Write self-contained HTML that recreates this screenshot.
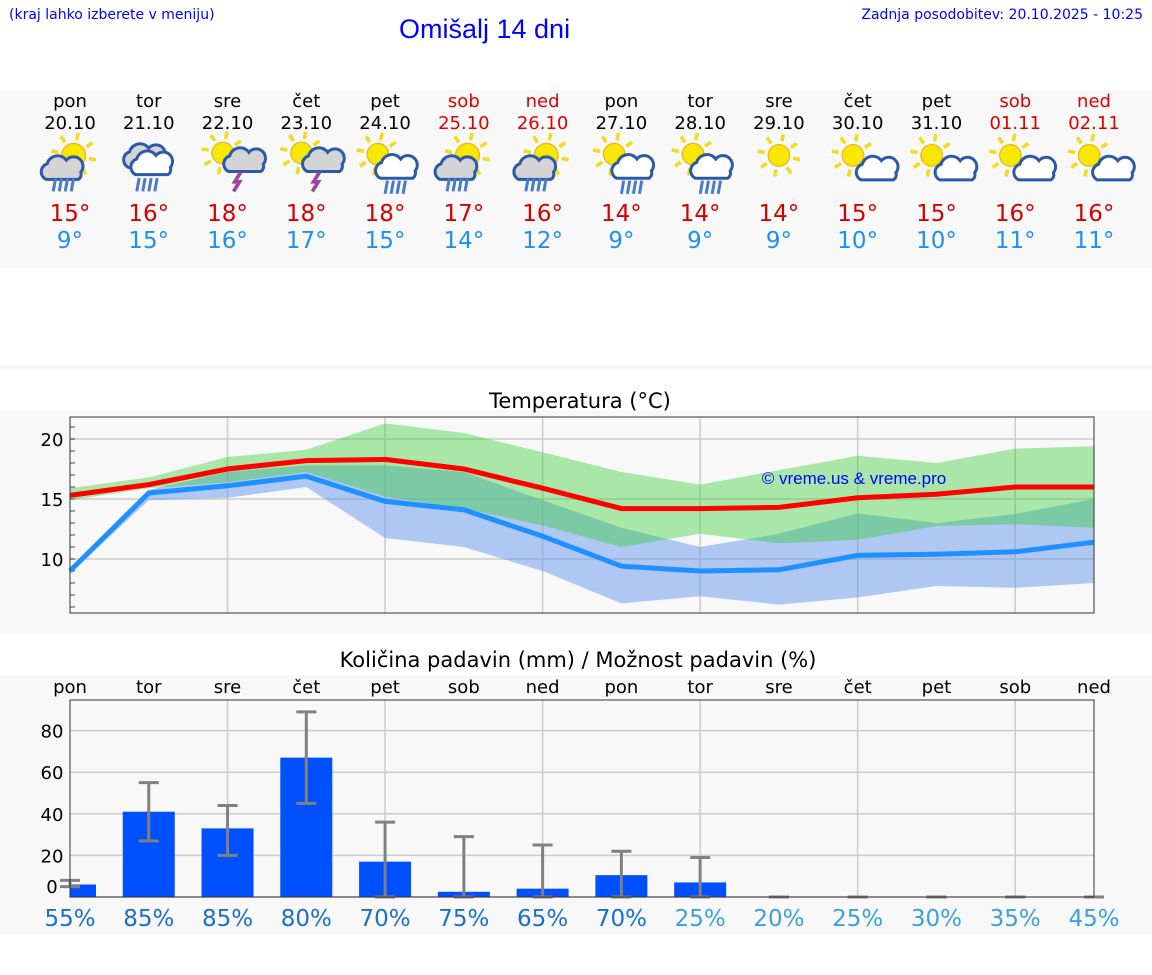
<!DOCTYPE html>
<html><head><meta charset="utf-8">
<style>
body{margin:0;width:1152px;height:975px;background:#fff;font-family:"DejaVu Sans","Liberation Sans",sans-serif;position:relative;overflow:hidden}
.abs{position:absolute}
</style></head>
<body>
<div class="abs" style="left:9px;top:7px;font-size:14px;color:#00f;font-family:'DejaVu Sans',sans-serif">(kraj lahko izberete v meniju)</div>
<div class="abs" style="left:399px;top:14px;font-size:27px;color:#00f;font-family:'Liberation Sans',sans-serif">Omišalj 14 dni</div>
<div class="abs" style="right:9px;top:7px;font-size:14px;color:#00f;font-family:'DejaVu Sans',sans-serif">Zadnja posodobitev: 20.10.2025 - 10:25</div>
<div class="abs" style="left:0;top:90px;width:1152px;height:178px;background:#f8f8f8"></div>
<div class="abs" style="left:0;top:365px;width:1152px;height:5px;background:#f8f8f8"></div>
<div class="abs" style="left:0;top:410px;width:1152px;height:224px;background:#f8f8f8"></div>
<div class="abs" style="left:0;top:675px;width:1152px;height:260px;background:#f8f8f8"></div>
<svg id="svg" class="abs" style="left:0;top:0" width="1152" height="975"></svg>
<script>
const days=["pon","tor","sre","čet","pet","sob","ned","pon","tor","sre","čet","pet","sob","ned"];
const dates=["20.10","21.10","22.10","23.10","24.10","25.10","26.10","27.10","28.10","29.10","30.10","31.10","01.11","02.11"];
const icons=["sunrain","cloudrain","sunstorm","sunstorm","suncloudrain","sunrain","sunrain","suncloudrain","suncloudrain","sun","suncloud","suncloud","suncloud","suncloud"];
const tmax=[15,16,18,18,18,17,16,14,14,14,15,15,16,16];
const tmin=[9,15,16,17,15,14,12,9,9,9,10,10,11,11];
const maxLine=[15.3,16.2,17.5,18.2,18.3,17.5,15.9,14.2,14.2,14.3,15.1,15.4,16.0,16.0];
const minLine=[9.0,15.5,16.1,16.9,14.8,14.1,11.9,9.4,9.0,9.1,10.3,10.4,10.6,11.4];
const maxHi=[15.9,16.8,18.5,19.1,21.3,20.5,18.9,17.25,16.2,17.4,18.6,18.0,19.2,19.4];
const maxLo=[14.9,15.9,16.4,17.25,15.2,14.2,12.8,11.0,12.1,11.3,11.6,12.75,12.9,12.6];
const minHi=[9.3,15.75,17.25,17.8,17.8,17.25,14.9,12.6,11.0,12.1,13.8,13.0,13.75,15.0];
const minLo=[8.8,14.9,15.1,16.0,11.75,11.0,9.0,6.3,6.9,6.2,6.8,7.75,7.6,8.0];
const tempTicks=[10,15,20];
const precip=[6,41,33,67,17,2.5,4,10.5,7,0,0,0,0,0];
const precipLo=[5,27,20,45,0,0,0,0,0,0,0,0,0,0];
const precipHi=[8,55,44,89,36,29,25,22,19,0,0,0,0,0];
const chance=[55,85,85,80,70,75,65,70,25,20,25,30,35,45];
const precipTicks=[0,20,40,60,80];

const S=document.getElementById('svg');const NS="http://www.w3.org/2000/svg";
function el(t,a,p){const e=document.createElementNS(NS,t);for(const k in a)e.setAttribute(k,a[k]);(p||S).appendChild(e);return e;}
function txt(x,y,s,a,name){const e=el('text',Object.assign({x:x,y:y,'text-anchor':'middle','font-family':'DejaVu Sans, Liberation Sans, sans-serif'},a));e.textContent=s;

return e;}
const X=i=>70+i*(1094-70)/13;
days.forEach((d,i)=>{const we=i==5||i==6||i==12||i==13;const c=we?'#d00':'#000';
txt(X(i),107,d,{'font-size':18,fill:c},'day-name');
txt(X(i),129,dates[i],{'font-size':18,fill:c},'day-date');
txt(X(i),221,tmax[i]+'°',{'font-size':23,fill:'#d40000'},'max-temp');
txt(X(i),248,tmin[i]+'°',{'font-size':23,fill:'#2090f0'},'min-temp');
drawIcon(X(i),165,icons[i]);
});
function drawIcon(cx,cy,t){const g=el('g',{transform:`translate(${cx},${cy}) scale(1.2)`});


const sun=(x,y,r)=>{for(let k=0;k<8;k++){const a=k*Math.PI/4+0.2;el('line',{x1:x+Math.cos(a)*(r+3),y1:y+Math.sin(a)*(r+3),x2:x+Math.cos(a)*(r+9),y2:y+Math.sin(a)*(r+9),stroke:'#f0dc20','stroke-width':3},g);}
el('circle',{cx:x,cy:y,r:r,fill:'#f7e800',stroke:'#f0b020','stroke-width':1},g);};
const cloud=(x,y,s,f)=>{el('path',{d:`M${x-14*s},${y+8*s} a7 7 0 0 1 1,-13 a9 9 0 0 1 16,-3 a7 7 0 0 1 12,10 a5 5 0 0 1 -2,6 z`,fill:f,stroke:'#2a5aa8','stroke-width':2.5},g);};
const rain=(x,y)=>{for(let k=0;k<4;k++)el('line',{x1:x+k*5+2,y1:y,x2:x+k*5,y2:y+11,stroke:'#4a7ac8','stroke-width':2.5},g);};
const bolt=(x,y)=>el('path',{d:`M${x+3},${y} L${x-2},${y+8} L${x+2},${y+8} L${x-3},${y+16}`,stroke:'#a040a0','stroke-width':3,fill:'none'},g);
if(t=='sun'){sun(0,-8,9);}
else if(t=='sunrain'){sun(3,-8,10);cloud(-6,4,1,'#d4d4d4');rain(-14,11);}
else if(t=='cloudrain'){cloud(-3,-6,1,'#d4d4d4');cloud(3,0,1,'#fff');rain(-10,11);}
else if(t=='sunstorm'){sun(-4,-10,9);cloud(12,-1,0.8,'#d4d4d4');bolt(8,6);}
else if(t=='suncloudrain'){sun(-6,-9,9);cloud(10,3,1,'#fff');rain(0,13);}
else if(t=='suncloud'){sun(-4,-8,9);cloud(14,6,0.8,'#fff');}
}
const TY=t=>439+(20-t)*12;
txt(580,408,'Temperatura (°C)',{'font-size':21,fill:'#000'},'temp-chart-title');
el('rect',{x:70,y:417,width:1024,height:196,fill:'#f8f8f8'});
for(let i=2;i<13;i+=2)el('line',{x1:X(i),x2:X(i),y1:417,y2:613,stroke:'#ccc','stroke-width':1.5});
tempTicks.forEach(t=>{el('line',{x1:70,x2:1094,y1:TY(t),y2:TY(t),stroke:'#ccc','stroke-width':1.5});txt(52,TY(t)+7,String(t),{'font-size':18,fill:'#000'},'temp-tick');});
for(let t=6;t<=21;t++)el('line',{x1:70,x2:75,y1:TY(t),y2:TY(t),stroke:'#444'});
function band(hi,lo,fill,op,name){let d='M'+hi.map((v,i)=>X(i)+','+TY(v)).join('L')+'L'+lo.map((v,i)=>X(i)+','+TY(v)).reverse().join('L')+'Z';const p=el('path',{d:d,fill:fill,'fill-opacity':op});

}
band(minHi,minLo,'#6495ed',0.5,'min-temp-range');
band(maxHi,maxLo,'#32cd32',0.4,'max-temp-range');
function line(v,c,name){const p=el('polyline',{points:v.map((t,i)=>X(i)+','+TY(t)).join(' '),fill:'none',stroke:c,'stroke-width':5});

}
line(maxLine,'#ff0000','max-temp-line');line(minLine,'#1e90ff','min-temp-line');
el('rect',{x:70,y:417,width:1024,height:196,fill:'none',stroke:'#333'});
txt(854,484,'© vreme.us & vreme.pro',{'font-size':17,fill:'#0000ff','font-family':'Liberation Sans, sans-serif'},'watermark');
const PY=v=>897-v*2.08;const bw=52;
txt(578,667,'Količina padavin (mm) / Možnost padavin (%)',{'font-size':21,fill:'#000'},'precip-chart-title');
days.forEach((d,i)=>txt(X(i),693,d,{'font-size':18,fill:'#000'},'precip-day-name'));
el('rect',{x:70,y:700,width:1024,height:197,fill:'#f8f8f8'});
for(let i=2;i<13;i+=2)el('line',{x1:X(i),x2:X(i),y1:700,y2:897,stroke:'#ccc','stroke-width':1.5});
precipTicks.forEach(t=>{el('line',{x1:70,x2:1094,y1:PY(t),y2:PY(t),stroke:'#ccc','stroke-width':1.5});txt(52,(t==0?PY(t)-4:PY(t)+7),String(t),{'font-size':18,fill:'#000'},'precip-tick');});
precip.forEach((v,i)=>{const x0=Math.max(70,X(i)-bw/2),x1=Math.min(1094,X(i)+bw/2);
const r=el('rect',{x:x0,y:PY(v),width:x1-x0,height:v*2.08,fill:'#0050ff'});


const g=el('g',{stroke:'#808080','stroke-width':3});


el('line',{x1:X(i),x2:X(i),y1:PY(precipLo[i]),y2:PY(precipHi[i])},g);
el('line',{x1:X(i)-10,x2:X(i)+10,y1:PY(precipHi[i]),y2:PY(precipHi[i])},g);
el('line',{x1:X(i)-10,x2:X(i)+10,y1:PY(precipLo[i]),y2:PY(precipLo[i])},g);
txt(X(i),926,chance[i]+'%',{'font-size':23,fill:i<8?'#1a70c8':'#3aa0e0'},'precip-chance');});
el('rect',{x:70,y:700,width:1024,height:197,fill:'none',stroke:'#333'});
</script>
</body></html>
